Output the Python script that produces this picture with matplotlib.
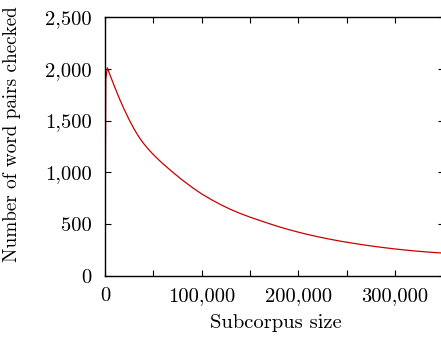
import matplotlib
matplotlib.use("Agg")
import matplotlib.pyplot as plt
from matplotlib.ticker import MultipleLocator, FuncFormatter

# Subcorpus size vs. number of word pairs checked
subcorpus_size = [0, 800, 2400, 5000, 10000, 15000, 20000, 25000, 30000, 35000,
                  40000, 45000, 50000, 55000, 60000, 70000, 80000, 90000, 100000,
                  110000, 120000, 130000, 140000, 150000, 160000, 170000, 180000,
                  190000, 200000, 210000, 220000, 230000, 240000, 250000, 260000,
                  270000, 280000, 290000, 300000, 310000, 320000, 330000, 340000,
                  352000]
pairs_checked = [0, 1900, 2010, 1945, 1825, 1710, 1605, 1508, 1420, 1343,
                 1278, 1222, 1172, 1126, 1083, 1002, 926, 856, 792,
                 737, 687, 642, 603, 568, 536, 505, 475,
                 448, 423, 400, 379, 360, 342, 326, 311,
                 297, 284, 272, 261, 251, 242, 234, 227,
                 220]

x_tick_labels = {0: "0", 100000: "100,000", 200000: "200,000", 300000: "300,000"}

plt.rcParams["font.family"] = "serif"
plt.rcParams["font.serif"] = ["cmr10", "DejaVu Serif"]
plt.rcParams["axes.formatter.use_mathtext"] = True
FS = 14.8

W, H = 441, 337
fig = plt.figure(figsize=(W / 100, H / 100), dpi=100)
ax = fig.add_axes([105 / W, 61 / H, 338.5 / W, 259 / H])

ax.plot(subcorpus_size, pairs_checked, color="#c80000", lw=0.9)

ax.set_xlim(0, 350000)
ax.set_ylim(0, 2500)

ax.xaxis.set_major_locator(MultipleLocator(50000))
ax.xaxis.set_major_formatter(FuncFormatter(lambda v, p: x_tick_labels.get(int(round(v)), "")))
ax.yaxis.set_major_locator(MultipleLocator(500))
ax.yaxis.set_major_formatter(FuncFormatter(lambda v, p: f"{int(round(v)):,}"))

ax.tick_params(direction="in", length=4.0, width=0.8, top=True, right=True,
               labelsize=FS, colors="black")
ax.tick_params(axis="x", pad=8)
ax.tick_params(axis="y", pad=9.5)
for s in ax.spines.values():
    s.set_linewidth(1.0)

fig.text(276 / W, 1 - 323 / H, "Subcorpus size", fontsize=FS,
         ha="center", va="center")
fig.text(12 / W, 1 - 134 / H, "Number of word pairs checked", fontsize=13.8,
         ha="center", va="center", rotation=90)

fig.savefig("out.png", dpi=100)
